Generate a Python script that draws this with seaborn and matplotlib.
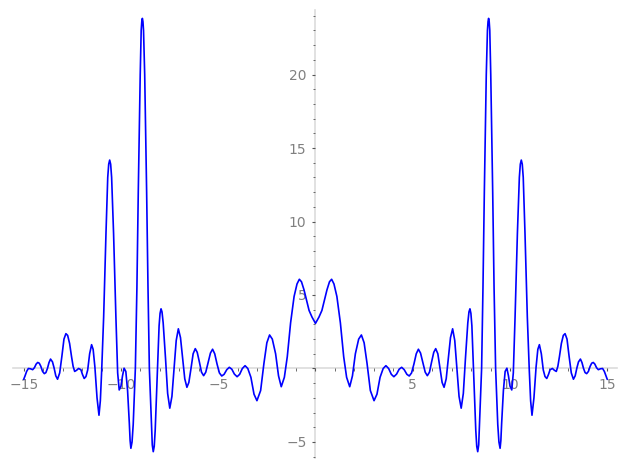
import numpy as np
import pandas as pd
import matplotlib
matplotlib.use("Agg")
import matplotlib.pyplot as plt
import seaborn as sns
from matplotlib.ticker import MultipleLocator, FuncFormatter

# curve, right half (x >= 0); the picture is mirror symmetric
x_right = [0.00, 0.18, 0.33, 0.45, 0.59, 0.72, 0.83, 0.95, 1.10, 1.28, 1.45, 1.60,
           1.76, 1.90, 2.05, 2.22, 2.36, 2.50, 2.65, 2.82, 3.01, 3.16, 3.32, 3.48,
           3.62, 3.76, 3.90, 4.03, 4.17, 4.30, 4.43, 4.56, 4.70, 4.82, 4.94, 5.06,
           5.18, 5.29, 5.40, 5.52, 5.64, 5.75, 5.86, 5.97, 6.08, 6.18, 6.29, 6.40,
           6.51, 6.61, 6.72, 6.83, 6.94, 7.05, 7.16, 7.27, 7.38, 7.49, 7.60, 7.71,
           7.83, 7.89, 7.94, 7.99, 8.04, 8.14, 8.24, 8.29, 8.34, 8.39, 8.44, 8.54,
           8.61, 8.68, 8.78, 8.84, 8.87, 8.90, 8.93, 8.96, 9.01, 9.11, 9.18, 9.26,
           9.37, 9.43, 9.49, 9.53, 9.57, 9.66, 9.75, 9.84, 9.92, 10.00, 10.09, 10.17,
           10.26, 10.38, 10.48, 10.53, 10.58, 10.63, 10.68, 10.77, 10.89, 10.99,
           11.06, 11.13, 11.23, 11.34, 11.43, 11.51, 11.61, 11.71, 11.80, 11.89,
           11.98, 12.06, 12.18, 12.28, 12.38, 12.46, 12.54, 12.64, 12.74, 12.83,
           12.93, 13.04, 13.15, 13.26, 13.35, 13.44, 13.52, 13.62, 13.70, 13.78,
           13.86, 13.94, 14.03, 14.12, 14.20, 14.28, 14.36, 14.45, 14.54, 14.65,
           14.76, 14.85, 14.93, 15.00]
y_right = [3.07, 3.50, 3.95, 4.60, 5.35, 5.90, 6.07, 5.75, 4.90, 3.10, 0.80, -0.60,
           -1.24, -0.50, 1.00, 2.00, 2.28, 1.75, 0.35, -1.50, -2.19, -1.75, -0.60, 0.00,
           0.19, 0.00, -0.40, -0.56, -0.38, -0.05, 0.08, -0.08, -0.40, -0.51, -0.30, 0.30,
           1.00, 1.31, 1.05, 0.40, -0.25, -0.49, -0.25, 0.45, 1.10, 1.35, 1.00, 0.00,
           -0.95, -1.28, -0.70, 0.70, 2.10, 2.70, 1.90, 0.00, -1.90, -2.70, -1.70, 0.70,
           3.10, 3.85, 4.06, 3.75, 2.90, -0.70, -4.20, -5.30, -5.66, -5.20, -3.50, 0.00,
           5.50, 12.00, 20.00, 23.00, 23.60, 23.82, 23.60, 23.00, 20.00, 12.00, 5.50, 0.00,
           -3.80, -5.00, -5.43, -4.90, -3.73, -1.50, -0.20, 0.02, -0.50, -1.20, -1.46, -0.30,
           3.50, 9.20, 13.00, 13.90, 14.18, 13.90, 13.00, 9.20, 3.50, -0.10,
           -2.20, -3.18, -2.00, 0.10, 1.30, 1.62, 1.00, -0.10, -0.55, -0.68,
           -0.40, -0.08, 0.00, -0.12, -0.20, 0.15, 0.80, 1.70, 2.25, 2.37,
           2.00, 0.80, -0.30, -0.73, -0.50, 0.05, 0.45, 0.64, 0.40, 0.00,
           -0.28, -0.35, -0.20, 0.15, 0.36, 0.41, 0.30, 0.05, -0.08, -0.02,
           0.00, -0.20, -0.50, -0.74]

x_vals = [-v for v in x_right[:0:-1]] + x_right
y_vals = y_right[:0:-1] + y_right
df = pd.DataFrame({"x": x_vals, "y": y_vals})

sns.set_style("white")
plt.rcParams['font.family'] = ['DejaVu Sans']

fig = plt.figure(figsize=(6.27, 4.70), dpi=100)
ax = fig.add_axes([13 / 627, 12 / 470, 604 / 627, 448 / 470])

sns.lineplot(data=df, x="x", y="y", ax=ax, color="#0000ff", linewidth=1.2,
             estimator=None, sort=False)

ax.set_xlim(-15.55, 15.5)
ax.set_ylim(-6.09, 24.39)
ax.set_xlabel("")
ax.set_ylabel("")

for side in ["top", "right"]:
    ax.spines[side].set_visible(False)
ax.spines["left"].set_position(("data", 0))
ax.spines["bottom"].set_position(("data", 0))
for side in ["left", "bottom"]:
    ax.spines[side].set_color("#dcdcdc")
    ax.spines[side].set_linewidth(1.2)
    ax.spines[side].set_zorder(0)

fmt = FuncFormatter(lambda v, p: "" if abs(v) < 1e-9 else "%d" % v if v >= 0 else "\u2212%d" % -v)
for axis in [ax.xaxis, ax.yaxis]:
    axis.set_major_locator(MultipleLocator(5))
    axis.set_minor_locator(MultipleLocator(1))
    axis.set_major_formatter(fmt)

ax.tick_params(which="both", bottom=True, left=True, top=False, right=False)
ax.tick_params(which="major", direction="out", length=2.5, width=0.8, color="#555555",
               labelcolor="#808080", labelsize=10, pad=4)
ax.tick_params(which="minor", direction="out", length=1.8, width=0.6, color="#555555")

fig.savefig("out.png", dpi=100)
